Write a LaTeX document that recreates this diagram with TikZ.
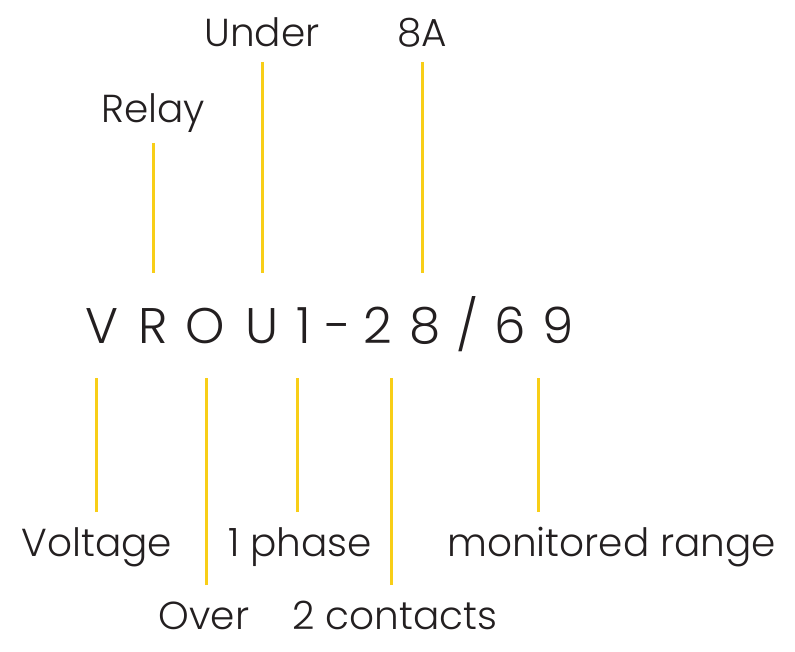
\documentclass[tikz,border=0pt]{standalone}
\usepackage{fontspec}
\setmainfont{Poppins Light}
\usepackage{tikz}
\definecolor{codeink}{HTML}{231F20}
\definecolor{tickyellow}{HTML}{F8CE17}
\tikzset{
  codechar/.style={inner sep=0pt,text height=35pt,text depth=0pt,outer ysep=35pt,
    anchor=base,text=codeink,font=\fontsize{50}{50}\selectfont},
  part label/.style={inner sep=0pt,text height=29pt,text depth=0pt,outer ysep=15pt,
    anchor=base,text=codeink,font=\fontsize{39}{39}\selectfont},
  tick/.style={draw=tickyellow,line width=3pt}
}

\begin{document}
\begin{tikzpicture}[x=1pt,y=-1pt]
  \useasboundingbox (0,0) rectangle (795,652);
  % the type code, one character at a time
  \node[codechar] (cV) at (101.5,343) {V};
  \node[codechar] (cR) at (153,343) {R};
  \node[codechar] (cO) at (205,343) {O};
  \node[codechar] (cU) at (262,343) {U};
  \node[codechar] (c1) at (304,343) {1};
  \node[codechar] (cdash) at (338.5,343) {-};
  \node[codechar] (c2) at (378,343) {2};
  \node[codechar] (c8) at (425,343) {8};
  \node[codechar] (cslash) at (468,343) {/};
  \node[codechar] (c6) at (510,343) {6};
  \node[codechar] (c9) at (558,343) {9};
  % labels above
  \node[part label,outer ysep=20pt] (relay) at (153,123) {Relay};
  \node[part label] (under) at (262,47) {Under};
  \node[part label] (amps) at (422,47) {8A};
  % labels below
  \node[part label] (voltage) at (97,556) {Voltage};
  \node[part label] (phase) at (300,556) {1 phase};
  \node[part label,anchor=base west] (range) at (447,556) {monitored range};
  \node[part label] (over) at (204,629) {Over};
  \node[part label] (contacts) at (395,629) {2 contacts};
  % ticks
  \draw[tick] (relay.south) -- (relay.south |- cR.north);
  \draw[tick] (under.south) -- (under.south |- cU.north);
  \draw[tick] (amps.south) -- (amps.south |- c8.north);
  \draw[tick] ([xshift=-1pt]voltage.north) -- ([xshift=-1pt]voltage.north |- cV.south);
  \draw[tick] ([xshift=2pt]over.north) -- ([xshift=2pt]over.north |- cO.south);
  \draw[tick] ([xshift=-3pt]phase.north) -- ([xshift=-3pt]phase.north |- c1.south);
  \draw[tick] ([xshift=-4pt]contacts.north) -- ([xshift=-4pt]contacts.north |- c2.south);
  \draw[tick] ([xshift=-20pt]c9.south) -- ([xshift=-20pt]c9.south |- range.north);
\end{tikzpicture}
\end{document}
